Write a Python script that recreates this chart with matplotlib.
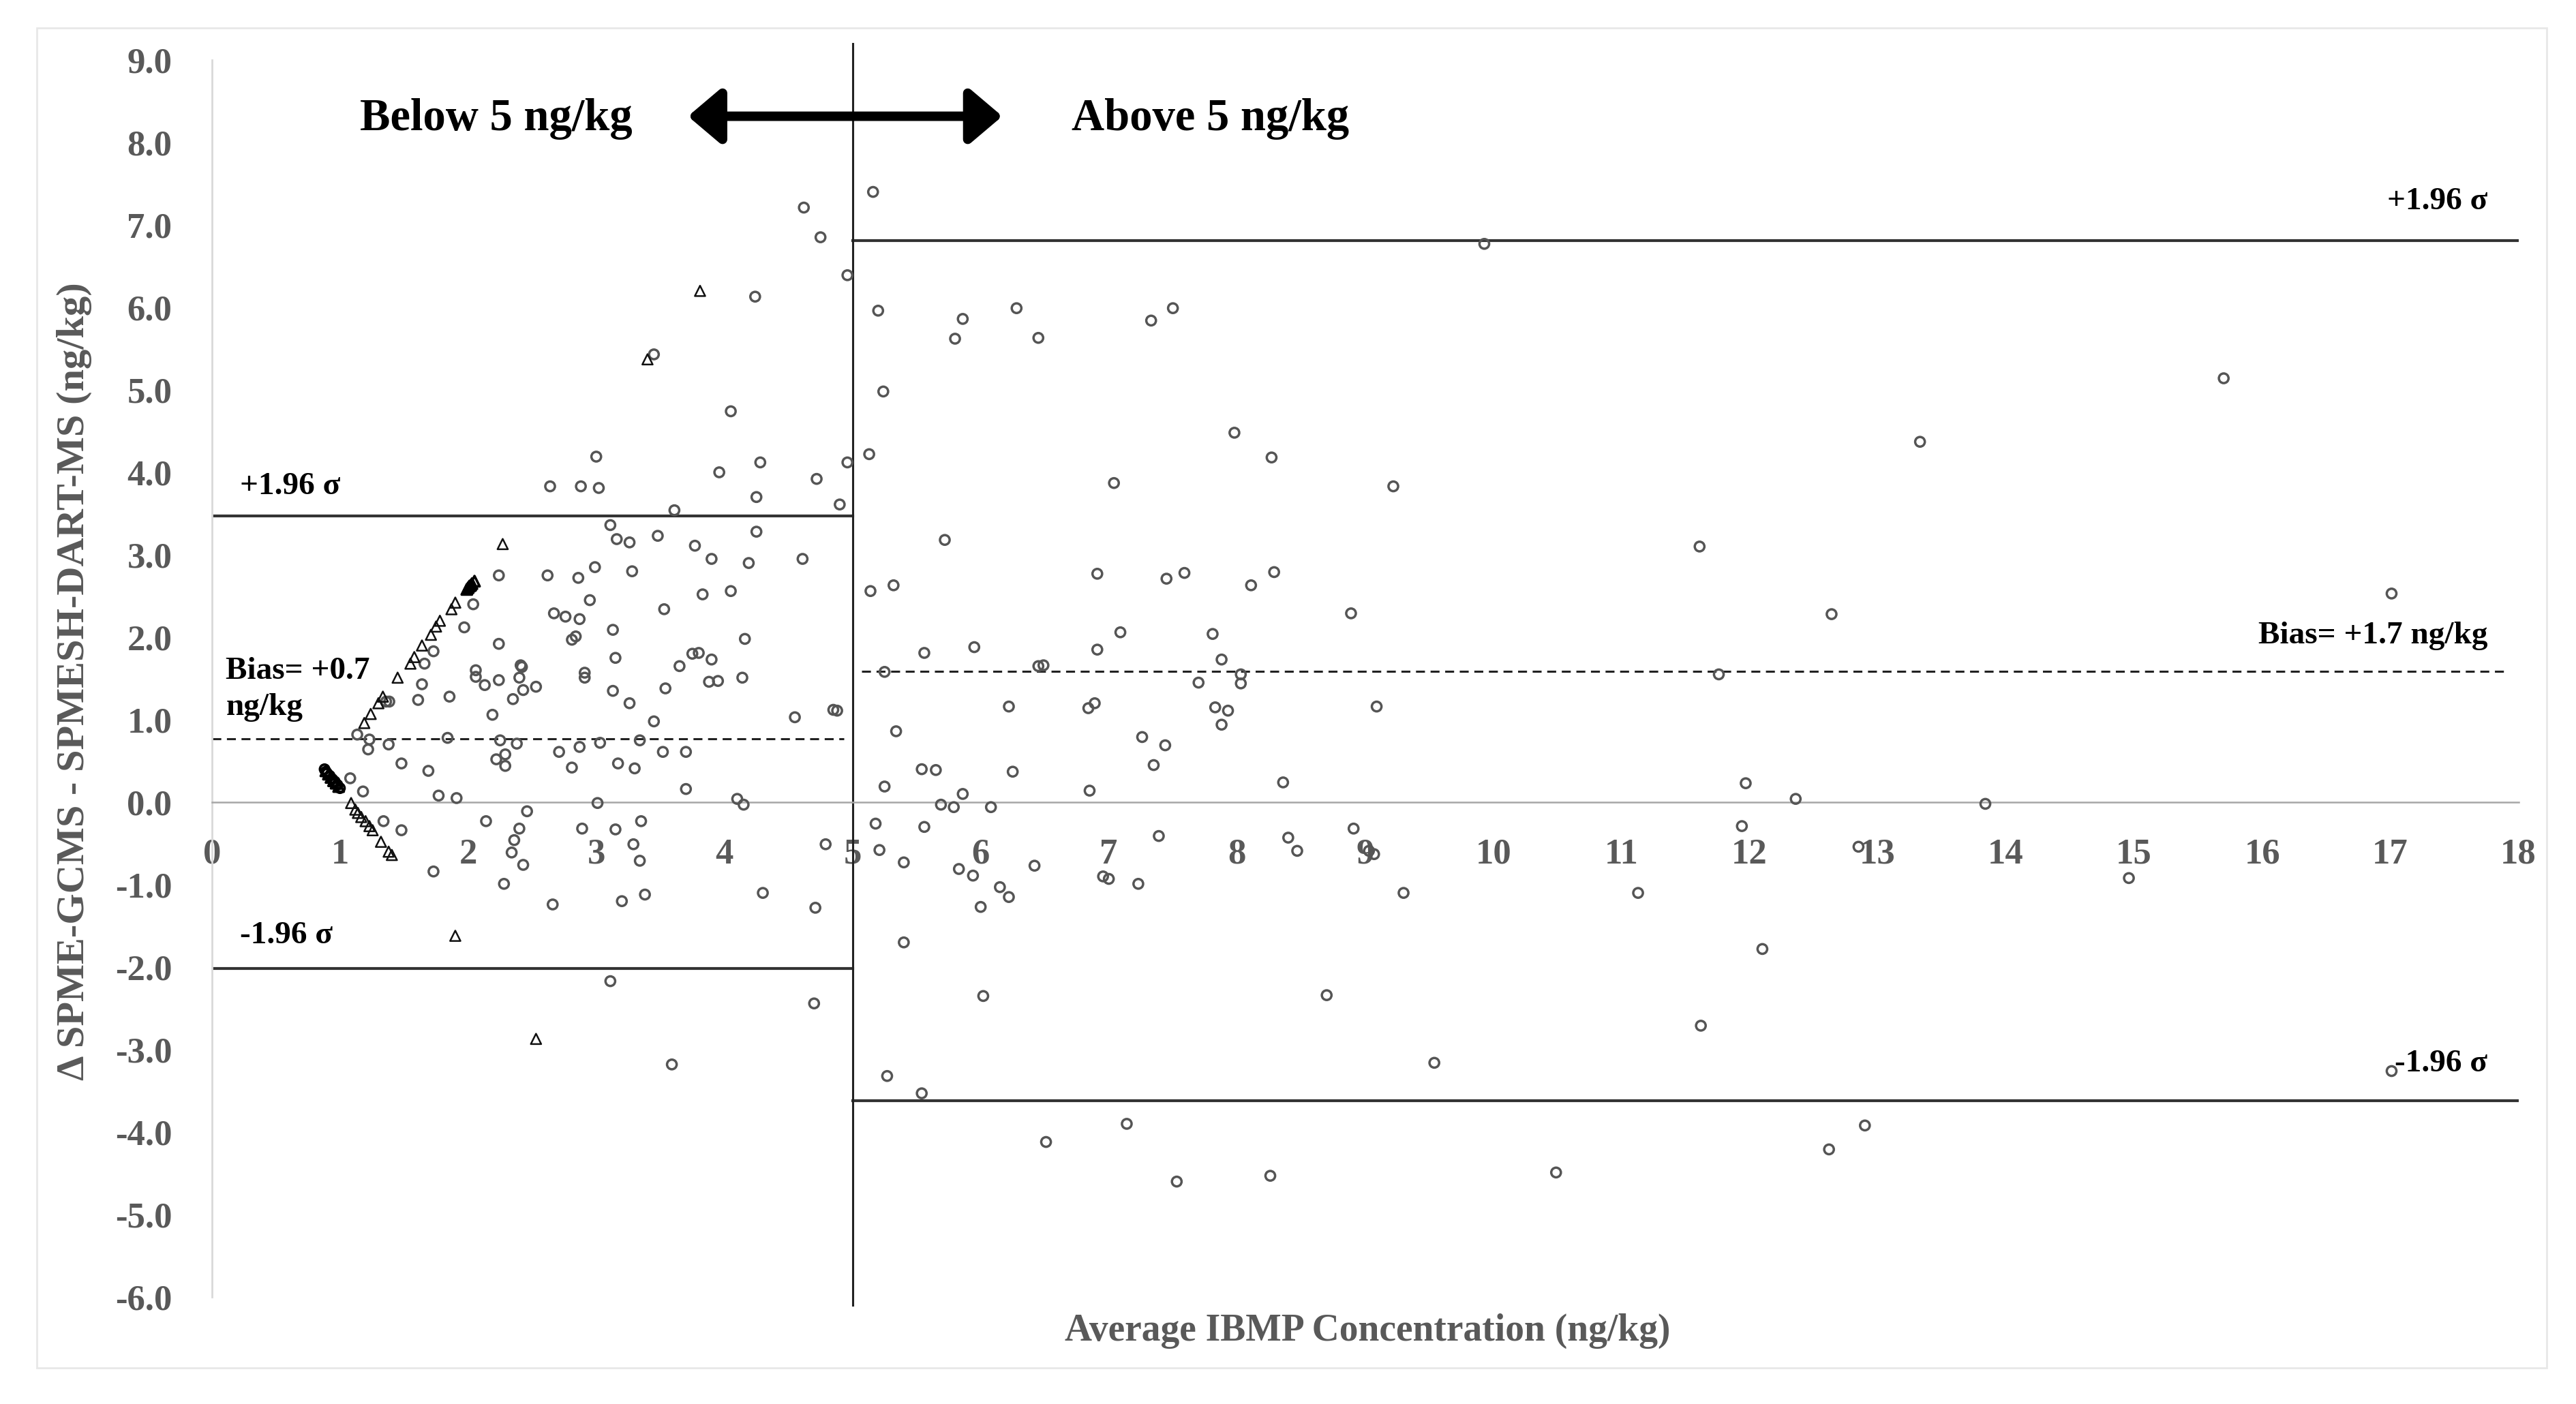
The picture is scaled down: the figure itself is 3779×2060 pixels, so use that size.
import matplotlib
matplotlib.use('Agg')
import matplotlib.pyplot as plt
from matplotlib.patches import Rectangle

plt.rcParams['font.family'] = ['Liberation Serif', 'DejaVu Serif']

# open grey circles (average, difference)
circ_x = [4.62, 4.75, 4.96, 4.24, 3.45,
          4.05, 3.00, 2.64, 2.88, 3.02, 3.96, 4.28, 4.96, 4.72, 4.25, 4.90, 3.61, 3.11, 3.16, 3.26,
          3.48, 3.77, 4.25, 3.90, 4.19, 4.61, 2.99, 2.86, 3.28, 2.95, 3.83, 4.05, 3.53, 2.87, 3.13,
          2.81, 2.84, 4.16, 3.15, 3.75, 3.80, 3.90, 3.65, 2.91, 2.91,
          2.24, 2.62, 2.04, 2.67, 2.76, 1.97, 2.24, 1.73, 1.66, 2.41,
          1.64, 1.61, 1.855, 1.36, 1.385, 1.135, 1.23, 1.22, 1.38, 1.84, 1.48, 1.69, 1.08, 1.18,
          1.77, 1.91, 1.34, 1.48, 1.73,
          2.06, 2.06, 2.13, 2.24, 2.42, 2.40, 2.43, 2.53, 2.35, 2.19, 2.25, 2.38, 2.22, 2.29, 2.29,
          2.71, 2.81, 2.87, 2.46, 2.14, 2.40, 2.36, 2.34, 2.43, 2.28, 2.66, 2.89,
          4.14, 3.88, 3.95, 3.54, 3.13, 3.26, 3.45, 4.55, 4.85, 4.88, 3.03, 3.34, 3.52, 3.70, 3.17,
          3.30, 3.70, 3.01, 4.10, 4.15, 3.35, 3.15, 3.29, 3.34, 4.79, 4.30, 4.71, 3.20, 3.38,
          3.11, 4.70, 3.59,
          5.16, 5.20, 5.86, 5.80, 6.28, 6.45, 7.33, 7.50, 9.93, 5.24, 5.13, 7.98, 8.27, 7.04, 9.22,
          11.61, 5.72, 5.14, 5.32, 6.91, 7.45, 7.59, 8.11, 8.29, 8.89, 7.09, 7.81, 7.88, 6.91, 5.95,
          5.56, 6.45, 6.49, 5.25, 7.70, 8.03, 8.03, 6.22, 6.84, 6.89, 7.83, 7.93, 7.88, 9.09, 5.34,
          7.26, 7.44, 7.35, 5.54, 5.65, 6.25, 5.25, 5.86, 6.85, 8.36, 5.69, 5.79, 6.08, 5.18, 5.56,
          7.39, 8.40, 8.47, 8.91, 9.03, 9.07, 5.21, 5.40, 5.83, 5.94, 6.42, 6.955, 7.00, 7.23, 6.15,
          6.22, 6.00, 9.30, 11.13, 5.40, 6.02, 8.70, 11.62, 5.27, 5.54, 9.54, 7.14, 6.51, 7.53, 8.26,
          10.49, 15.70, 13.33, 12.64, 17.01, 11.76, 11.97, 12.36, 13.84, 11.94, 12.85, 14.96, 12.10,
          17.01, 12.90, 12.62]
circ_y = [7.21, 6.85, 6.39, 6.13, 5.43,
          4.74, 4.19, 3.83, 3.83, 3.81, 4.00, 4.12, 4.12, 3.92, 3.70, 3.61, 3.54, 3.36, 3.19, 3.15,
          3.23, 3.11, 3.28, 2.95, 2.90, 2.95, 2.85, 2.72, 2.80, 2.45, 2.52, 2.56, 2.34, 2.22, 2.09,
          1.97, 2.01, 1.98, 1.75, 1.80, 1.81, 1.73, 1.65, 1.57, 1.51,
          2.75, 2.75, 2.40, 2.29, 2.25, 2.12, 1.92, 1.83, 1.68, 1.66,
          1.43, 1.24, 1.28, 1.22, 1.22, 0.82, 0.76, 0.64, 0.70, 0.78, 0.47, 0.38, 0.29, 0.13,
          0.08, 0.05, -0.23, -0.34, -0.84,
          1.60, 1.52, 1.42, 1.48, 1.64, 1.51, 1.36, 1.40, 1.25, 1.06, 0.75, 0.71, 0.52, 0.58, 0.44,
          0.61, 0.42, 0.67, -0.11, -0.23, -0.32, -0.46, -0.61, -0.76, -0.99, -1.24, -0.32,
          1.51, 1.46, 1.47, 1.38, 1.35, 1.20, 0.98, 1.03, 1.12, 1.11, 0.72, 0.75, 0.61, 0.61, 0.47,
          0.41, 0.16, -0.01, 0.04, -0.03, -0.23, -0.33, -0.51, -0.71, -0.51, -1.10, -1.28, -1.20, -1.12,
          -2.17, -2.44, -3.18,
          7.40, 5.96, 5.86, 5.62, 5.99, 5.63, 5.84, 5.99, 6.77, 4.98, 4.22, 4.48, 4.18, 3.87, 3.83,
          3.10, 3.18, 2.56, 2.63, 2.77, 2.71, 2.78, 2.63, 2.79, 2.29, 2.06, 2.04, 1.73, 1.85, 1.88,
          1.81, 1.65, 1.66, 1.58, 1.45, 1.55, 1.44, 1.16, 1.14, 1.20, 1.15, 1.11, 0.94, 1.16, 0.86,
          0.79, 0.69, 0.45, 0.40, 0.39, 0.37, 0.19, 0.10, 0.14, 0.24, -0.03, -0.06, -0.06, -0.26, -0.30,
          -0.41, -0.43, -0.59, -0.32, -0.59, -0.63, -0.58, -0.73, -0.81, -0.89, -0.77, -0.90, -0.93, -0.99, -1.03,
          -1.15, -1.27, -1.10, -1.10, -1.70, -2.35, -2.34, -2.71, -3.32, -3.53, -3.16, -3.90, -4.12, -4.60, -4.53,
          -4.49, 5.14, 4.37, 2.28, 2.53, 1.55, 0.23, 0.04, -0.02, -0.29, -0.54, -0.92, -1.78,
          -3.26, -3.92, -4.21]

# open black triangles
tri_x = [3.81, 3.40, 2.27, 1.90, 2.53,
         1.19, 1.24, 1.30, 1.335, 1.45, 1.55, 1.58, 1.64, 1.71, 1.75, 1.78, 1.87, 1.90,
         1.087, 1.12, 1.14, 1.166, 1.20, 1.23, 1.255, 1.32, 1.38, 1.405]
tri_y = [6.20, 5.37, 3.13, -1.62, -2.87,
         0.96, 1.07, 1.20, 1.28, 1.51, 1.68, 1.76, 1.90, 2.03, 2.13, 2.20, 2.34, 2.42,
         -0.01, -0.09, -0.13, -0.18, -0.23, -0.29, -0.34, -0.48, -0.60, -0.64]

# heavily overlapping markers (appear solid black)
dense_tri_x = [1.99, 2.00, 2.01, 2.02, 2.03, 2.05, 0.89, 0.91, 0.93, 0.95, 0.97, 0.99]
dense_tri_y = [2.58, 2.60, 2.62, 2.63, 2.65, 2.68, 0.38, 0.34, 0.30, 0.26, 0.23, 0.19]
dense_circ_x = [0.88, 0.89, 0.90, 0.92, 0.94, 0.96, 0.98, 1.00]
dense_circ_y = [0.40, 0.37, 0.35, 0.32, 0.28, 0.25, 0.21, 0.17]

split = 5
low_bias, low_upper, low_lower = 0.77, 3.47, -2.02
high_bias, high_upper, high_lower = 1.59, 6.81, -3.62

xticks = list(range(0, 19))
yticks = list(range(-6, 10))

grey = '#595959'

fig = plt.figure(figsize=(18.9, 10.3), dpi=200)
ax = fig.add_axes([0.0822, 0.0762, 0.8952, 0.8811])
ax.set_xlim(0, 18)
ax.set_ylim(-6, 9)

# limits of agreement and bias
ax.plot([0, split], [low_upper, low_upper], color='#333333', lw=1.5)
ax.plot([0, split], [low_lower, low_lower], color='#333333', lw=1.5)
ax.plot([0, 4.93], [low_bias, low_bias], color='#222222', lw=1.1, linestyle=(0, (4.3, 2.7)))
ax.plot([split, 18], [high_upper, high_upper], color='#333333', lw=1.5)
ax.plot([split, 18], [high_lower, high_lower], color='#333333', lw=1.5)
ax.plot([5.07, 17.92], [high_bias, high_bias], color='#222222', lw=1.1, linestyle=(0, (4.3, 2.7)))
ax.plot([split, split], [-6.1, 9.2], color='#222222', lw=1.1, clip_on=False)

ax.scatter(circ_x, circ_y, s=26, facecolors='none', edgecolors='#555555', linewidths=1.25, zorder=3)
ax.scatter(tri_x, tri_y, s=30, marker='^', facecolors='none', edgecolors='#111111', linewidths=0.9, zorder=3)
ax.scatter(dense_circ_x, dense_circ_y, s=24, facecolors='none', edgecolors='black', linewidths=1.3, zorder=3)
ax.scatter(dense_tri_x, dense_tri_y, s=30, marker='^', facecolors='none', edgecolors='black', linewidths=1.3, zorder=3)

# axes styling: x axis sits on y = 0
for s in ['top', 'right']:
    ax.spines[s].set_visible(False)
ax.spines['bottom'].set_position(('data', 0))
ax.spines['bottom'].set_color('#a6a6a6')
ax.spines['bottom'].set_linewidth(0.9)
ax.spines['left'].set_color('#d9d9d9')
ax.spines['left'].set_linewidth(1.0)

ax.set_xticks(xticks, labels=[str(v) for v in xticks])
ax.set_yticks(yticks, labels=[f"{v:.1f}" for v in yticks])
ax.tick_params(axis='both', length=0, labelsize=19, labelcolor=grey)
ax.tick_params(axis='x', pad=19)
ax.tick_params(axis='y', pad=21)
for lbl in ax.get_xticklabels() + ax.get_yticklabels():
    lbl.set_fontweight('bold')

# annotations
tb = dict(fontsize=17, fontweight='bold', color='black')
ax.text(0.22, 3.83, '+1.96 σ', ha='left', va='center', **tb)
ax.text(0.11, 1.37, 'Bias= +0.7\nng/kg', ha='left', va='center', linespacing=1.35, **tb)
ax.text(0.22, -1.62, '-1.96 σ', ha='left', va='center', **tb)
ax.text(17.76, 7.28, '+1.96 σ', ha='right', va='center', **tb)
ax.text(17.76, 2.02, 'Bias= +1.7 ng/kg', ha='right', va='center', **tb)
ax.text(17.76, -3.17, '-1.96 σ', ha='right', va='center', **tb)

fig.text(0.1926, 0.9155, 'Below 5 ng/kg', ha='center', va='center', fontsize=24, fontweight='bold')
fig.text(0.4698, 0.9155, 'Above 5 ng/kg', ha='center', va='center', fontsize=24, fontweight='bold')
ax.annotate('', xy=(0.267, 0.9172), xytext=(0.389, 0.9172), xycoords='figure fraction',
            textcoords='figure fraction',
            arrowprops=dict(arrowstyle='<|-|>,head_length=0.72,head_width=0.61', lw=5,
                            color='black', mutation_scale=20, shrinkA=0, shrinkB=0))

fig.text(0.5307, 0.052, 'Average IBMP Concentration (ng/kg)', ha='center', va='center',
         fontsize=20, fontweight='bold', color=grey)
fig.text(0.0288, 0.5146, 'Δ SPME-GCMS - SPMESH-DART-MS (ng/kg)', ha='center', va='center',
         rotation=90, fontsize=21, fontweight='bold', color=grey)

fig.add_artist(Rectangle((0.0143, 0.0255), 0.9741, 0.9547, transform=fig.transFigure,
                         fill=False, edgecolor='#e8e8e8', linewidth=1.0))

fig.savefig('out.png', dpi=200, facecolor='white')
